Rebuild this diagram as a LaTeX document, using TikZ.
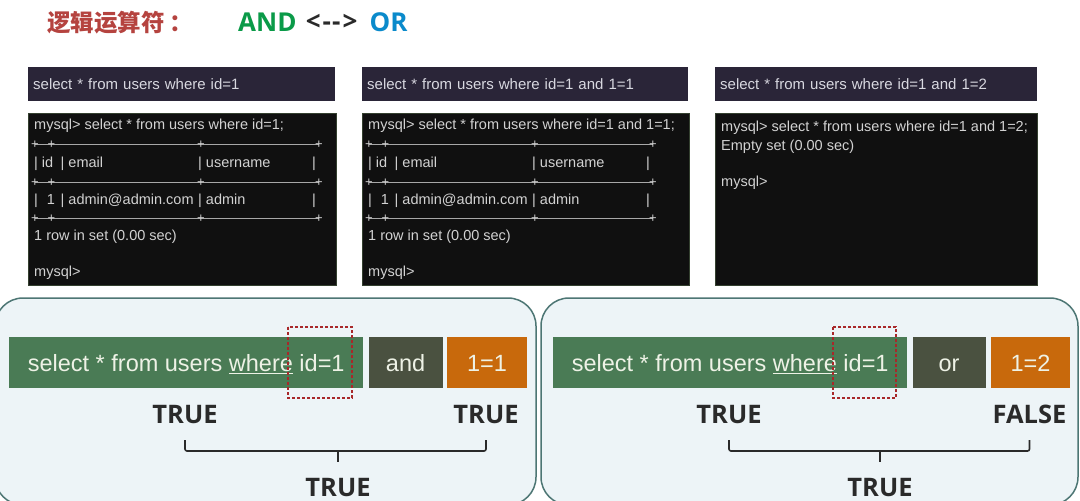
\documentclass[tikz,border=0pt]{standalone}
\usepackage{fontspec}
\setmainfont{Liberation Sans}
\newfontfamily\cjkfont{Noto Sans CJK SC}
\newfontfamily\boldfont{Open Sans}
\usetikzlibrary{positioning}

\definecolor{titleRed}{HTML}{B5433F}
\definecolor{andGreen}{HTML}{0A9A48}
\definecolor{orBlue}{HTML}{0A8ACB}
\definecolor{hdrBg}{HTML}{2A2538}
\definecolor{hdrFg}{HTML}{D8D8E0}
\definecolor{termBg}{HTML}{101010}
\definecolor{termLine}{HTML}{34402F}
\definecolor{termFg}{HTML}{D2D2D2}
\definecolor{panelBg}{HTML}{EDF4F7}
\definecolor{panelLine}{HTML}{4D7674}
\definecolor{barGreen}{HTML}{4A7B55}
\definecolor{barOlive}{HTML}{4A5140}
\definecolor{barOrange}{HTML}{C8690C}
\definecolor{barFg}{HTML}{EEF2E6}
\definecolor{idRed}{HTML}{A8282A}
\definecolor{labelInk}{HTML}{2A2A2A}

% separator line of the mysql table
\newcommand{\tsep}[2]{%
  \draw[tdash] (#1+7,#2) -- (#1+291,#2);
  \foreach \px in {7,23.5,173,291} \node[tplus] at (#1+\px,#2) {+};}
% mysql output with one row
\newcommand{\sqltable}[2]{%
  \node[ttext] at (#1+6,126) {mysql> #2};
  \tsep{#1}{144}
  \node[ttext] at (#1+6,164) {\makebox[26.5pt][l]{| id}\makebox[137.5pt][l]{| email}\makebox[114pt][l]{| username}|};
  \tsep{#1}{182}
  \node[ttext] at (#1+6,200.5) {\makebox[26.5pt][l]{|\hspace{9pt}1}\makebox[137.5pt][l]{| admin@admin.com}\makebox[114pt][l]{| admin}|};
  \tsep{#1}{218}
  \node[ttext] at (#1+6,237) {1 row in set (0.00 sec)};
  \node[ttext] at (#1+6,272.5) {mysql>};}

\begin{document}
\begin{tikzpicture}[x=1pt,y=-1pt]
\tikzset{hdrbox/.style = {fill=hdrBg, text=hdrFg, anchor=north west, inner xsep=5pt, align=left, minimum height=34pt, font=\fontsize{15}{18}\selectfont}}
\tikzset{termbox/.style = {fill=termBg, draw=termLine, line width=1pt, anchor=north west, inner sep=0}}
\tikzset{ttext/.style = {anchor=west, inner sep=0, text=termFg, text height=10pt, text depth=3pt, font=\fontsize{14.5}{17}\selectfont}}
\tikzset{tplus/.style = {inner sep=0, text=termFg, text height=9.2pt, text depth=0pt, font=\fontsize{13}{15}\selectfont}}
\tikzset{tdash/.style = {draw=termFg!80!black, line width=0.7pt}}
\tikzset{panel/.style = {fill=panelBg, draw=panelLine, line width=1.5pt, rounded corners=28pt}}
\tikzset{bar/.style = {anchor=north west, minimum height=51pt, inner sep=0, text height=17pt, text depth=0pt, text=barFg, font=\fontsize{23.5}{27}\selectfont}}
\tikzset{iddash/.style = {draw=idRed, line width=1.6pt, dash pattern=on 3pt off 2pt}}
\tikzset{tf/.style = {inner sep=0, text=labelInk, font=\boldfont\bfseries\fontsize{25.5}{29}\selectfont}}
\tikzset{brace/.style = {draw=labelInk, line width=1.6pt, rounded corners=2pt}}

\clip (0,0) rectangle (1080,501);
\fill[white] (0,0) rectangle (1080,501);

% title
\node[anchor=west, inner sep=0, text=titleRed, font=\cjkfont\bfseries\fontsize{23.5}{26}\selectfont] (ttl) at (47,23) {逻辑运算符\hspace{5pt}：};
\node[anchor=west, inner sep=0, text=andGreen, font=\boldfont\bfseries\fontsize{26}{30}\selectfont] (andw) at (238,22) {AND};
\node[right=9pt of andw, inner sep=0, text=labelInk, font=\boldfont\bfseries\fontsize{26}{30}\selectfont] (arr) {<\hspace{2pt}-\hspace{1pt}-\hspace{2pt}>};
\node[right=12pt of arr, inner sep=0, text=orBlue, font=\boldfont\bfseries\fontsize{26}{30}\selectfont] (orw) {OR};

% queries
\node[hdrbox, text width=297pt] (h1) at (28,67) {select * from users where id=1};
\node[hdrbox, text width=316pt] (h2) at (362,67) {select * from users where id=1 and 1=1};
\node[hdrbox, text width=312pt] (h3) at (715,67) {select * from users where id=1 and 1=2};

% mysql output
\node[termbox, minimum width=308pt, minimum height=172pt] (t1) at (28,113) {};
\node[termbox, minimum width=327pt, minimum height=172pt] (t2) at (362,113) {};
\node[termbox, minimum width=322pt, minimum height=172pt] (t3) at (715,113) {};
\sqltable{28}{select * from users where id=1;}
\sqltable{362}{select * from users where id=1 and 1=1;}
\node[ttext] at (721,128) {mysql> select * from users where id=1 and 1=2;};
\node[ttext] at (721,146.5) {Empty set (0.00 sec)};
\node[ttext] at (721,183) {mysql>};

% and
\draw[panel] (-5,298) rectangle (536,505);
\node[bar, fill=barGreen, minimum width=354pt] (sel1) at (9,337) {select * from users \underline{where} id=1};
\node[bar, fill=barOlive, minimum width=74pt, right=5pt of sel1] (andb) {and};
\node[bar, fill=barOrange, minimum width=80pt, right=4pt of andb] (cnd1) {1=1};
\draw[iddash] (288,327) rectangle (352,398);
\node[tf] (lt) at (185,414.5) {TRUE};
\node[tf] (rt) at (486,414.5) {TRUE};
\node[tf] (lb) at (338,487.5) {TRUE};
\draw[brace] (lt.center |- 0,440) -- (lt.center |- 0,451) -| (rt.center |- 0,440);
\draw[brace] (lb.center |- 0,451) -- (lb.center |- 0,462);

% or
\draw[panel] (541,298) rectangle (1078,505);
\node[bar, fill=barGreen, minimum width=354pt] (sel2) at (553,337) {select * from users \underline{where} id=1};
\node[bar, fill=barOlive, minimum width=73pt, right=5pt of sel2] (orb) {or};
\node[bar, fill=barOrange, minimum width=79pt, right=5pt of orb] (cnd2) {1=2};
\draw[iddash] (833,327) rectangle (896,398);
\node[tf] (lt2) at (729,414.5) {TRUE};
\node[tf] (rf2) at (1029.5,414.5) {FALSE};
\node[tf] (lb2) at (880,487.5) {TRUE};
\draw[brace] (lt2.center |- 0,440) -- (lt2.center |- 0,451) -| (rf2.center |- 0,440);
\draw[brace] (lb2.center |- 0,451) -- (lb2.center |- 0,462);
\end{tikzpicture}
\end{document}
